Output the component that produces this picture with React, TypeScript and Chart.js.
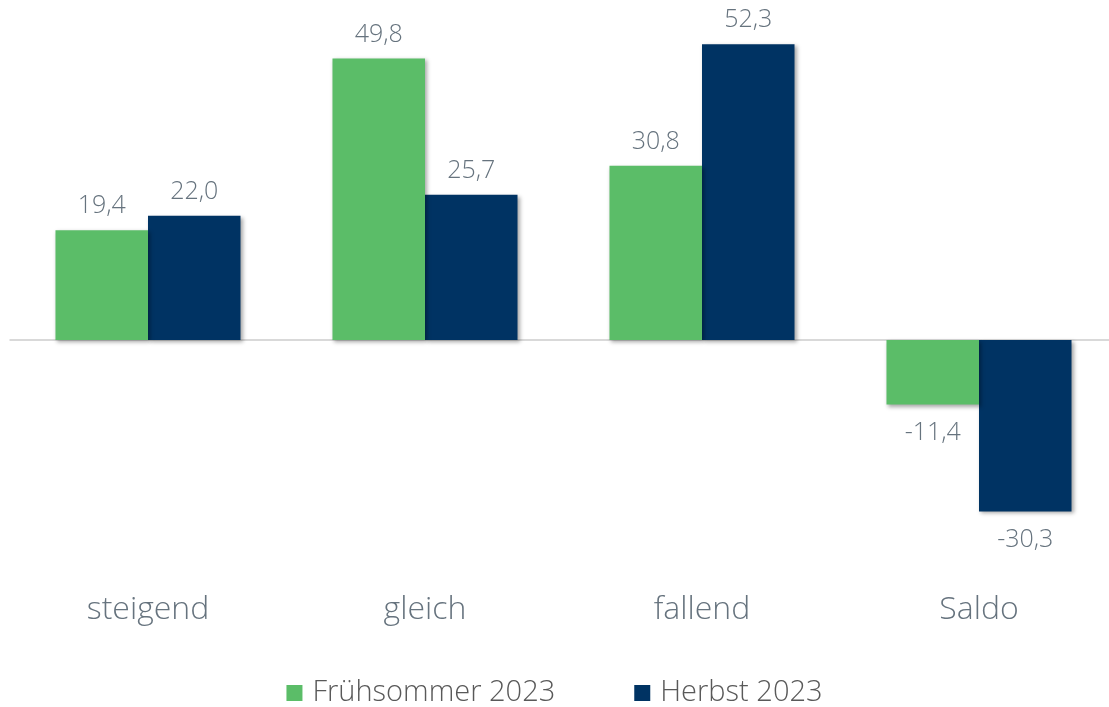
import React, { useEffect, useRef } from "react";
import { Chart, registerables } from "chart.js";

Chart.register(...registerables);

const categories = ["steigend", "gleich", "fallend", "Saldo"];
const seriesNames = ["Frühsommer 2023", "Herbst 2023"];
const fruehsommer = [19.4, 49.8, 30.8, -11.4];
const herbst = [22.0, 25.7, 52.3, -30.3];
const seriesColors = ["#5BBD68", "#003363"];

const FONT = "'Open Sans', 'Noto Sans', sans-serif";
const TEXT_GRAY = "#66737e";

const fmt = (v: number) => v.toFixed(1).replace(".", ",");

const zeroLinePlugin = {
  id: "zeroLine",
  beforeDatasetsDraw(chart: any) {
    const { ctx, chartArea, scales } = chart;
    const y = scales.y.getPixelForValue(0);
    ctx.save();
    ctx.strokeStyle = "#d9d9d9";
    ctx.lineWidth = 2;
    ctx.beginPath();
    ctx.moveTo(chartArea.left, y);
    ctx.lineTo(chartArea.right, y);
    ctx.stroke();
    ctx.restore();
  },
};

const shadowPlugin = {
  id: "barShadow",
  beforeDatasetDraw(chart: any) {
    const ctx = chart.ctx;
    ctx.save();
    ctx.shadowColor = "rgba(0,0,0,0.35)";
    ctx.shadowBlur = 4;
    ctx.shadowOffsetX = 2;
    ctx.shadowOffsetY = 2;
  },
  afterDatasetDraw(chart: any) {
    chart.ctx.restore();
  },
};

const valueLabelPlugin = {
  id: "valueLabels",
  afterDatasetsDraw(chart: any) {
    const { ctx } = chart;
    ctx.save();
    ctx.font = `300 25px ${FONT}`;
    ctx.fillStyle = TEXT_GRAY;
    ctx.textAlign = "center";
    ctx.textBaseline = "middle";
    chart.data.datasets.forEach((ds: any, i: number) => {
      const meta = chart.getDatasetMeta(i);
      meta.data.forEach((bar: any, j: number) => {
        const v = ds.data[j] as number;
        const y = v >= 0 ? bar.y - 24 : bar.y + 28;
        ctx.fillText(fmt(v), bar.x, y);
      });
    });
    ctx.restore();
  },
};

const customLegendPlugin = {
  id: "customLegend",
  afterDraw(chart: any) {
    const { ctx } = chart;
    ctx.save();
    ctx.font = `300 29px ${FONT}`;
    ctx.textBaseline = "middle";
    ctx.textAlign = "left";
    const box = 16;
    const gapText = 10;
    const gapItems = 79;
    const items = chart.data.datasets.map((ds: any) => ({
      label: ds.label,
      color: ds.backgroundColor,
      w: box + gapText + ctx.measureText(ds.label).width,
    }));
    const total = items.reduce((s: number, it: any) => s + it.w, 0) + gapItems * (items.length - 1);
    let x = 1109 / 2 - total / 2;
    const yc = 693;
    items.forEach((it: any) => {
      ctx.fillStyle = it.color;
      ctx.fillRect(x, yc - box / 2, box, box);
      ctx.fillStyle = "#595959";
      ctx.fillText(it.label, x + box + gapText, yc);
      x += it.w + gapItems;
    });
    ctx.restore();
  },
};

export default function App() {
  const ref = useRef<HTMLCanvasElement | null>(null);

  useEffect(() => {
    document.body.style.margin = "0";
    document.body.style.overflow = "hidden";
    if (!ref.current) return;
    const chart = new Chart(ref.current, {
      type: "bar",
      data: {
        labels: categories,
        datasets: [
          { label: seriesNames[0], data: fruehsommer, backgroundColor: seriesColors[0], barPercentage: 1, categoryPercentage: 0.668 },
          { label: seriesNames[1], data: herbst, backgroundColor: seriesColors[1], barPercentage: 1, categoryPercentage: 0.668 },
        ],
      },
      options: {
        responsive: false,
        animation: false,
        layout: { padding: { left: 9.5, right: 10.5, top: 29, bottom: 73 } },
        plugins: {
          legend: { display: false },
          tooltip: { enabled: false },
        },
        scales: {
          x: {
            grid: { display: false, drawTicks: false },
            border: { display: false },
            ticks: {
              padding: 53,
              color: TEXT_GRAY,
              font: { family: FONT, size: 32, weight: "300" },
            },
            afterFit(scale: any) {
              scale.height = 96;
            },
          },
          y: {
            display: false,
            min: -35,
            max: 55,
          },
        },
      },
      plugins: [zeroLinePlugin, shadowPlugin, valueLabelPlugin, customLegendPlugin],
    });
    return () => chart.destroy();
  }, []);

  return (
    <div style={{ width: 1109, height: 707, overflow: "hidden", position: "relative" }}>
      <canvas ref={ref} width={1128} height={707} style={{ display: "block" }} />
    </div>
  );
}
